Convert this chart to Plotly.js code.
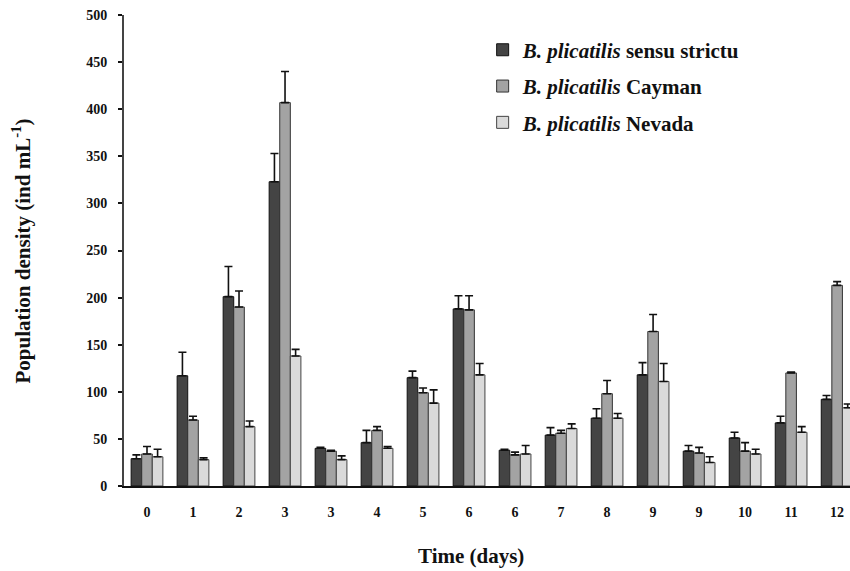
<!DOCTYPE html>
<html>
<head>
<meta charset="utf-8">
<script src="https://cdn.plot.ly/plotly-3.0.1.min.js"></script>
<style>html,body{margin:0;padding:0;background:#fff;}#chart{width:850px;height:571px;}</style>
</head>
<body>
<div id="chart"></div>
<script>
// Sampling days (x tick labels; some days appear twice)
const dayLabels = ["0","1","2","3","3","4","5","6","6","7","8","9","9","10","11","12"];
// B. plicatilis sensu strictu
const strictuMean = [29,117,201,323,40,46,115,188,38,54,72,118,37,51,67,92];
const strictuErr  = [4,25,32,30,1,13,7,14,1,8,10,13,6,6,7,4];
// B. plicatilis Cayman
const caymanMean  = [34,70,190,407,37,59,99,187,33,56,98,164,35,37,120,213];
const caymanErr   = [8,4,17,33,1,4,5,15,3,3,14,18,6,9,1,4];
// B. plicatilis Nevada
const nevadaMean  = [31,28,63,138,28,40,88,118,34,61,72,111,25,34,57,83];
const nevadaErr   = [8,2,6,7,4,2,14,12,9,5,5,19,6,5,6,4];
const yTicks = [0,50,100,150,200,250,300,350,400,450,500];

const idx = dayLabels.map((_, i) => i);
const bounds = dayLabels.map((_, i) => i - 0.5);
const noErr = new Array(dayLabels.length).fill(0);

function series(name, y, err, fill, lineCol, group) {
  return {
    type: 'bar', name: name, x: idx, y: y,
    legendgroup: group,
    marker: {color: fill, line: {color: lineCol, width: 1}},
    error_y: {type: 'data', symmetric: false, array: err, arrayminus: noErr,
              color: '#111', thickness: 1.6, width: 4}
  };
}

const data = [
  series('<i>B. plicatilis</i> sensu strictu', strictuMean, strictuErr, '#444444', '#111111', 'a'),
  series('<i>B. plicatilis</i> Cayman', caymanMean, caymanErr, '#a3a3a3', '#333333', 'b'),
  series('<i>B. plicatilis</i> Nevada', nevadaMean, nevadaErr, '#dadada', '#444444', 'c')
];

const serif = 'Liberation Serif, Times New Roman, serif';
const xr = [-0.5, 15.28];
const yr = [0, 500];

const layout = {
  width: 850, height: 571,
  margin: {l: 124, r: 0, t: 15, b: 85},
  paper_bgcolor: '#fff', plot_bgcolor: '#fff',
  barmode: 'group', bargap: 0.31, bargroupgap: 0,
  showlegend: true,
  legend: {
    x: 0.494, y: 0.969, xanchor: 'left', yanchor: 'top',
    font: {family: serif, size: 21, color: '#111', weight: 700},
    tracegroupgap: 6, bgcolor: 'rgba(0,0,0,0)'
  },
  xaxis: {
    range: xr, tickmode: 'array', tickvals: idx, ticktext: dayLabels,
    ticks: '', showgrid: false, zeroline: false,
    showline: true, linecolor: '#111', linewidth: 2,
    tickfont: {family: serif, size: 14, color: '#111', weight: 700},
    ticklabelstandoff: 12
  },
  xaxis2: {
    overlaying: 'x', anchor: 'y', range: xr, tickmode: 'array', tickvals: bounds,
    ticks: 'outside', ticklen: 4, tickwidth: 2, tickcolor: '#111',
    showticklabels: false, showgrid: false, zeroline: false, showline: false
  },
  xaxis3: {
    overlaying: 'x', anchor: 'y', range: xr, tickmode: 'array', tickvals: bounds,
    ticks: 'inside', ticklen: 4, tickwidth: 2, tickcolor: '#111',
    showticklabels: false, showgrid: false, zeroline: false, showline: false
  },
  yaxis: {
    range: yr, tickmode: 'array', tickvals: yTicks,
    ticks: 'outside', ticklen: 4, tickwidth: 2, tickcolor: '#111',
    showgrid: false, zeroline: false,
    showline: true, linecolor: '#444', linewidth: 2,
    tickfont: {family: serif, size: 14, color: '#111', weight: 700},
    ticklabelstandoff: 8
  },
  yaxis2: {
    overlaying: 'y', anchor: 'x', side: 'left', range: yr, tickmode: 'array', tickvals: yTicks,
    ticks: 'inside', ticklen: 4, tickwidth: 2, tickcolor: '#111',
    showticklabels: false, showgrid: false, zeroline: false, showline: false
  },
  annotations: [
    {text: 'Time (days)', xref: 'paper', yref: 'paper', x: 0.478, y: -0.149,
     xanchor: 'center', yanchor: 'middle', showarrow: false,
     font: {family: serif, size: 21, color: '#111', weight: 700}},
    {text: 'Population density (ind mL<sup>-1</sup>)', xref: 'paper', yref: 'paper',
     x: -0.1405, y: 0.5, xanchor: 'center', yanchor: 'middle', textangle: -90, showarrow: false,
     font: {family: serif, size: 21, color: '#111', weight: 700}}
  ]
};

Plotly.newPlot('chart', data, layout, {displayModeBar: false, staticPlot: true});
</script>
</body>
</html>
